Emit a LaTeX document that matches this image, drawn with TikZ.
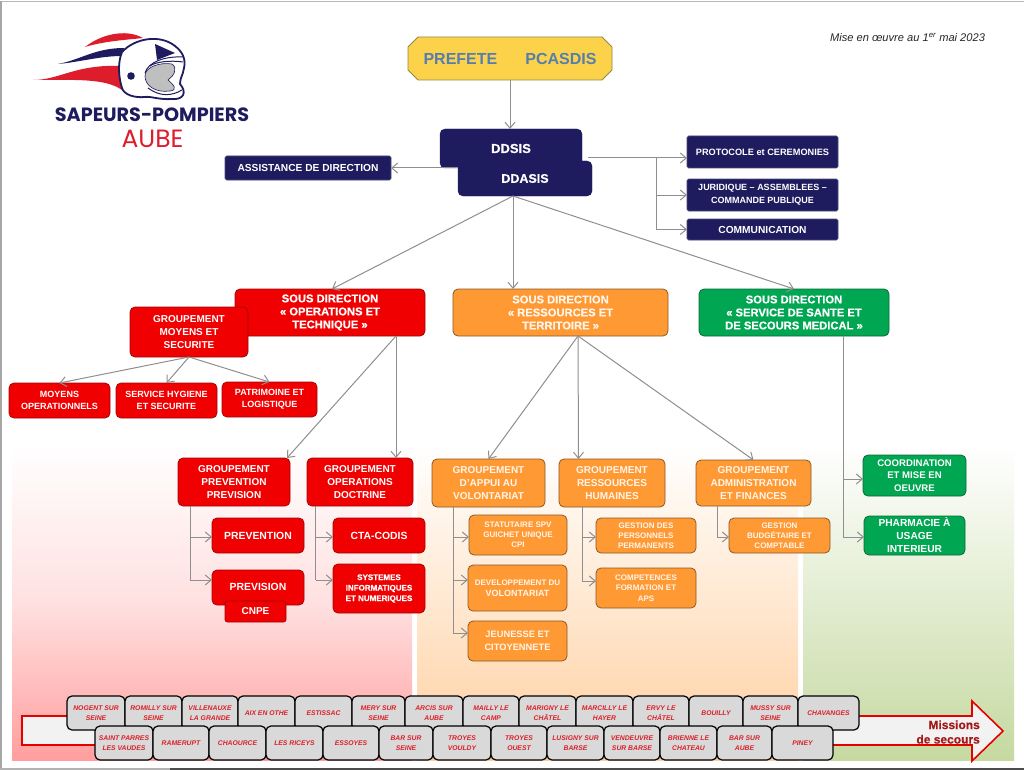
\documentclass[tikz,border=0pt]{standalone}
\usepackage{fontspec}
\setmainfont{Liberation Sans}
\newfontfamily\logofont{Poppins}
\newfontfamily\heavy{Liberation Sans}[UprightFont=* Bold,FakeBold=0.6]
\usetikzlibrary{arrows.meta,shapes.misc}
\definecolor{navy}{HTML}{1E1B5E}
\definecolor{rouge}{HTML}{F00000}
\definecolor{rougeb}{HTML}{A00808}
\definecolor{orangec}{HTML}{FF9933}
\definecolor{orangeb}{HTML}{8A5A2A}
\definecolor{vert}{HTML}{00A651}
\definecolor{vertb}{HTML}{0B6B3A}
\definecolor{cityred}{HTML}{D9202A}
\definecolor{lien}{HTML}{8F8F8F}
\definecolor{logored}{HTML}{DD1C2C}
\tikzset{
 fs/.style 2 args={font=\fontsize{#1}{#2}\selectfont\bfseries},
 hv/.style 2 args={font=\heavy\fontsize{#1}{#2}\selectfont},
 base/.style={inner sep=0pt,outer sep=0pt,align=center,text=white},
 navybox/.style={base,fill=navy,draw=navy!80!white,line width=.6pt,rounded corners=1.5pt},
 navyround/.style={base,fill=navy,draw=navy,rounded corners=5pt},
 redbox/.style={base,fill=rouge,draw=rougeb,line width=.8pt,rounded corners=5pt},
 orbox/.style={base,fill=orangec,draw=orangeb,line width=.8pt,rounded corners=5pt,text=white!92!orange},
 grbox/.style={base,fill=vert,draw=vertb,line width=.8pt,rounded corners=5pt},
 citybox/.style={base,fill=black!15,draw=black,line width=1.2pt,rounded corners=5pt,text=cityred,
   font=\fontsize{6.8}{10}\selectfont\bfseries\itshape},
 lk/.style={draw=lien,line width=1pt,-{Straight Barb[length=6pt,width=10pt]}},
 ln/.style={draw=lien,line width=1pt},
}
\newcommand{\bx}[7]{%
 \pgfmathsetmacro{\cxx}{(#3+#5)/2}\pgfmathsetmacro{\cyy}{(#4+#6)/2}%
 \pgfmathsetmacro{\wdd}{#5-#3}\pgfmathsetmacro{\htt}{#6-#4}%
 \node[#2,minimum width=\wdd pt,minimum height=\htt pt] (#1) at (\cxx,\cyy) {#7};}
\begin{document}
\begin{tikzpicture}[x=1pt,y=-1pt]
\useasboundingbox (0,0) rectangle (1024,770);
\fill[white] (0,0) rectangle (1024,770);
% frame
\fill[black!28] (0,1) rectangle (1024,2.5);
\fill[black!35] (0,1) rectangle (2,770);
\fill[black!30] (0,767.5) rectangle (170,770);
\fill[black!70] (170,767.5) rectangle (1024,770);
% panels
\shade[top color=white,bottom color=red!38!white,middle color=red!12!white] (12,445) rectangle (412,760);
\shade[top color=white,bottom color=orange!38!white,middle color=orange!18!white] (417,445) rectangle (798,760);
\shade[top color=white,bottom color={rgb,255:red,197;green,217;blue,160},middle color={rgb,255:red,226;green,236;blue,208}] (803,445) rectangle (1014,760);
% logo
\fill[logored] (85,47) .. controls (100,35) and (125,28) .. (143,38) .. controls (125,40) and (105,41) .. (85,47) -- cycle;
\fill[navy] (58,64) .. controls (80,60) and (95,48) .. (124,48) -- (122,56) .. controls (100,56) and (80,62) .. (58,64) -- cycle;
\fill[logored] (33,80) .. controls (60,80) and (75,64) .. (122,66) -- (122,90) .. controls (105,78) and (75,80) .. (33,80) -- cycle;
\filldraw[fill=white,draw=navy,line width=1.8pt] (122,52) .. controls (135,38) and (160,34) .. (175,46) .. controls (183,52) and (186,60) .. (184,68) .. controls (183,75) and (180,78) .. (180,84) .. controls (187,92) and (184,100) .. (172,99) .. controls (160,100) and (150,96) .. (145,97) .. controls (135,98) and (124,95) .. (122,88) .. controls (118,75) and (118,62) .. (122,52) -- cycle;
\fill[navy] (155,44) -- (175,53) -- (157,60) -- cycle;
\draw[navy,line width=1pt] (145,73) .. controls (148,62) and (165,56) .. (183,57);
\draw[navy,line width=1pt] (150,66) .. controls (155,62) and (170,60) .. (183,62);
\filldraw[fill=black!25,draw=navy,line width=.6pt] (145,76) .. controls (145,67) and (160,62) .. (172,64) .. controls (178,68) and (174,76) .. (168,80) .. controls (174,85) and (178,90) .. (170,91) .. controls (156,93) and (145,86) .. (145,76) -- cycle;
\draw[navy,line width=1pt] (148,88) .. controls (160,97) and (172,96) .. (182,90);
\fill[navy] (131,76) circle (3.8);
\node[inner sep=0,text=navy,font=\logofont\fontsize{19.2}{22}\selectfont\bfseries] (logoa) at (152,115) {SAPEURS-POMPIERS};
\node[inner sep=0,text=logored,font=\logofont\fontsize{25}{28}\selectfont] (logob) at (152.5,139) {AUBE};
% note
\node[inner sep=0,font=\fontsize{11.1}{12}\selectfont\itshape,text=black!85] (note) at (907.5,37) {Mise en œuvre au 1\textsuperscript{er} mai 2023};
% top
\bx{pref}{chamfered rectangle,chamfered rectangle xsep=5pt,chamfered rectangle ysep=5pt,inner sep=0pt,outer sep=0pt,fill=yellow!55!orange!70!white,draw=yellow!50!black,line width=.8pt,text={rgb,255:red,85;green,125;blue,175},fs={16}{18}}{408}{37}{612}{80}{PREFETE\hspace{28pt}PCASDIS}
\bx{ddsis}{navyround,hv={13}{14}}{440}{129}{582}{168}{DDSIS}
\bx{assist}{navybox,fs={10.2}{12}}{225}{156}{391}{180}{ASSISTANCE DE DIRECTION}
\bx{proto}{navybox,fs={9.2}{12}}{687}{136}{838}{168}{PROTOCOLE et  CEREMONIES}
\bx{jurid}{navybox,fs={9}{13}}{687}{179}{838}{211}{JURIDIQUE – ASSEMBLEES –\\COMMANDE PUBLIQUE}
\bx{comm}{navybox,fs={10.2}{12}}{687}{219}{838}{240}{COMMUNICATION}
\draw[lk] (pref.south) -- (pref.south |- ddsis.north);
\coordinate (jcn) at (656,158);
\draw[ln] (jcn) -- (656,229);
\draw[lk] ([xshift=6pt]ddsis.east |- jcn) -- (proto.west |- jcn);
\draw[lk] (jcn |- jurid.west) -- (jurid.west);
\draw[lk] (jcn |- comm.west) -- (comm.west);
\bx{ddasis}{navyround,hv={12.5}{14}}{458}{161}{592}{196}{DDASIS}
\draw[lk] (ddasis.west |- assist.east) -- (assist.east);
\bx{sdop}{redbox,hv={11.2}{13}}{235}{289}{425}{336}{SOUS DIRECTION\\« OPERATIONS ET\\TECHNIQUE »}
\bx{sdrt}{orbox,hv={11.2}{13}}{453}{289}{668}{336}{SOUS DIRECTION\\« RESSOURCES ET\\TERRITOIRE »}
\bx{sdss}{grbox,hv={11.2}{13}}{699}{289}{889}{336}{SOUS DIRECTION\\« SERVICE DE SANTE ET\\DE SECOURS MEDICAL »}
\draw[lk] ([xshift=-12pt]ddasis.south) -- ([xshift=2pt]sdop.north);
\draw[lk] ([xshift=-12pt]ddasis.south) -- ([xshift=-47.5pt]sdrt.north);
\draw[lk] ([xshift=-12pt]ddasis.south) -- (sdss.north);
\bx{gms}{redbox,fs={10}{13}}{130}{307}{248}{357}{GROUPEMENT\\MOYENS ET\\SECURITE}
\bx{mo}{redbox,fs={9}{12}}{9}{383}{110}{418}{MOYENS\\OPERATIONNELS}
\bx{sh}{redbox,fs={9}{12}}{116}{383}{217}{418}{SERVICE HYGIENE\\ET SECURITE}
\bx{pl}{redbox,fs={9}{12}}{222}{382}{317}{417}{PATRIMOINE ET\\LOGISTIQUE}
\draw[lk] (gms.south) -- (mo.north);
\draw[lk] (gms.south) -- (sh.north);
\draw[lk] (gms.south) -- (pl.north);
% groupements red
\bx{gpp}{redbox,fs={10}{13}}{178}{458}{290}{506}{GROUPEMENT\\PREVENTION\\PREVISION}
\bx{gop}{redbox,fs={10}{13}}{307}{458}{413}{506}{GROUPEMENT\\OPERATIONS\\DOCTRINE}
\draw[lk] ([xshift=66pt]sdop.south) -- ([xshift=53pt]gpp.north);
\draw[lk] ([xshift=66pt]sdop.south) -- ([xshift=36pt]gop.north);
\bx{prevt}{redbox,fs={10.4}{13}}{212}{518}{304}{553}{PREVENTION}
\bx{previ}{redbox,fs={10.4}{13}}{212}{570}{304}{605}{\raisebox{1.5pt}{PREVISION}}
\bx{cnpe}{redbox,rounded corners=2.5pt,fs={10}{12}}{225}{601}{286}{622}{CNPE}
\bx{cta}{redbox,fs={10.4}{13}}{333}{518}{425}{553}{CTA-CODIS}
\bx{sys}{redbox,hv={8}{10.5}}{333}{564}{425}{613}{SYSTEMES\\INFORMATIQUES\\ET NUMERIQUES}
\coordinate (ga) at (190,506);
\draw[ln] (ga) -- (190,580);
\draw[lk] (190,537) -- (prevt.west |- 190,537);
\draw[lk] (190,580) -- (previ.west |- 190,580);
\coordinate (gb) at (315.5,506);
\draw[ln] (gb) -- (315.5,580);
\draw[lk] (315.5,537) -- (cta.west |- 315.5,537);
\draw[lk] (315.5,580) -- (sys.west |- 315.5,580);
% groupements orange
\bx{gav}{orbox,fs={10}{13}}{432}{459}{545}{507}{GROUPEMENT\\D'APPUI AU\\VOLONTARIAT}
\bx{grh}{orbox,fs={10}{13}}{559}{459}{665}{507}{GROUPEMENT\\RESSOURCES\\HUMAINES}
\bx{gaf}{orbox,fs={10}{13}}{696}{460}{811}{506}{GROUPEMENT\\ADMINISTRATION\\ET FINANCES}
\draw[lk] ([xshift=17.5pt]sdrt.south) -- (gav.north);
\draw[lk] ([xshift=17.5pt]sdrt.south) -- ([xshift=-33.5pt]grh.north);
\draw[lk] ([xshift=17.5pt]sdrt.south) -- (gaf.north);
\bx{stat}{orbox,fs={8}{10.2}}{469}{515}{567}{555}{STATUTAIRE SPV\\GUICHET UNIQUE\\CPI}
\bx{dev}{orbox,fs={8}{10.5}}{468}{565}{567}{611}{DEVELOPPEMENT DU\\\fontsize{9}{11}\selectfont VOLONTARIAT}
\bx{jeu}{orbox,fs={9.3}{12.5}}{468}{621}{567}{661}{JEUNESSE ET\\CITOYENNETE}
\bx{gper}{orbox,fs={8}{10}}{596}{518}{696}{553}{GESTION DES\\PERSONNELS\\PERMANENTS}
\bx{comp}{orbox,fs={8}{10.5}}{596}{568}{696}{608}{COMPETENCES\\FORMATION ET\\APS}
\bx{gbud}{orbox,fs={8}{10}}{729}{518}{830}{553}{GESTION\\BUDGÉTAIRE ET\\COMPTABLE}
\coordinate (gc) at (453,507);
\draw[ln] (gc) -- (453,633);
\draw[lk] (453,537) -- (stat.west |- 453,537);
\draw[lk] (453,580) -- (dev.west |- 453,580);
\draw[lk] (453,633) -- (jeu.west |- 453,633);
\coordinate (gd) at (582,507);
\draw[ln] (gd) -- (582,581);
\draw[lk] (582,537) -- (gper.west |- 582,537);
\draw[lk] (582,581) -- (comp.west |- 582,581);
\coordinate (ge) at (717,506);
\draw[ln] (ge) -- (717,537);
\draw[lk] (717,537) -- (gbud.west |- 717,537);
% green
\bx{coord}{grbox,fs={9.6}{12.5}}{863}{455}{966}{496}{COORDINATION\\ET MISE EN\\OEUVRE}
\bx{phar}{grbox,fs={10.2}{13}}{864}{516}{965}{555}{PHARMACIE À\\USAGE\\INTERIEUR}
\coordinate (gf) at (843,336);
\draw[ln] (gf) -- (843,537);
\draw[lk] (843,479) -- (coord.west |- 843,479);
\draw[lk] (843,537) -- (phar.west |- 843,537);
% big arrow
\filldraw[fill=black!5,draw=red!90!black,line width=1.6pt] (22,716) -- (972,716) -- (972,701) -- (1003,731) -- (972,761) -- (972,745) -- (22,745) -- cycle;
\node[anchor=east,inner sep=0,align=right,text=red!60!black!90!white,font=\heavy\fontsize{12}{14.5}\selectfont] (miss) at (980,732) {Missions\\de secours};
% cities
\bx{c1}{citybox}{67}{696}{125}{730}{NOGENT SUR\\SEINE}
\bx{c2}{citybox}{125}{696}{182}{730}{ROMILLY SUR\\SEINE}
\bx{c3}{citybox}{182}{696}{238}{730}{VILLENAUXE\\LA GRANDE}
\bx{c4}{citybox}{238}{696}{295}{730}{AIX EN OTHE}
\bx{c5}{citybox}{295}{696}{352}{730}{ESTISSAC}
\bx{c6}{citybox}{352}{696}{405}{730}{MERY SUR\\SEINE}
\bx{c7}{citybox}{405}{696}{463}{730}{ARCIS SUR\\AUBE}
\bx{c8}{citybox}{463}{696}{519}{730}{MAILLY LE\\CAMP}
\bx{c9}{citybox}{519}{696}{576}{730}{MARIGNY LE\\CHÂTEL}
\bx{c10}{citybox}{576}{696}{633}{730}{MARCILLY LE\\HAYER}
\bx{c11}{citybox}{633}{696}{689}{730}{ERVY LE\\CHÂTEL}
\bx{c12}{citybox}{689}{696}{743}{730}{BOUILLY}
\bx{c13}{citybox}{743}{696}{798}{730}{MUSSY SUR\\SEINE}
\bx{c14}{citybox}{798}{696}{859}{730}{CHAVANGES}
\bx{d1}{citybox}{95}{726}{153}{760}{SAINT PARRES\\LES VAUDES}
\bx{d2}{citybox}{153}{726}{209}{760}{RAMERUPT}
\bx{d3}{citybox}{209}{726}{266}{760}{CHAOURCE}
\bx{d4}{citybox}{266}{726}{323}{760}{LES RICEYS}
\bx{d5}{citybox}{323}{726}{379}{760}{ESSOYES}
\bx{d6}{citybox}{379}{726}{433}{760}{BAR SUR\\SEINE}
\bx{d7}{citybox}{433}{726}{491}{760}{TROYES\\VOULDY}
\bx{d8}{citybox}{491}{726}{547}{760}{TROYES\\OUEST}
\bx{d9}{citybox}{547}{726}{604}{760}{LUSIGNY SUR\\BARSE}
\bx{d10}{citybox}{604}{726}{660}{760}{VENDEUVRE\\SUR BARSE}
\bx{d11}{citybox}{660}{726}{717}{760}{BRIENNE LE\\CHATEAU}
\bx{d12}{citybox}{717}{726}{772}{760}{BAR SUR\\AUBE}
\bx{d13}{citybox}{772}{726}{833}{760}{PINEY}
\end{tikzpicture}
\end{document}
